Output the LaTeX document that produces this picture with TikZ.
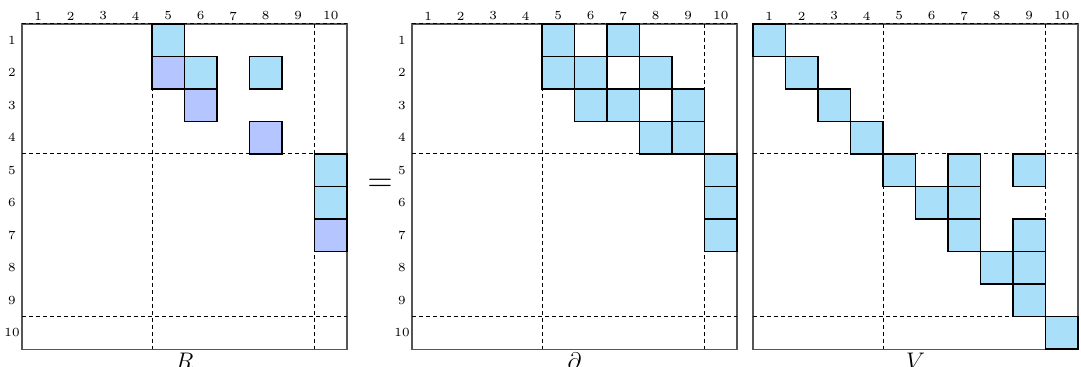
\documentclass[tikz,border=0pt]{standalone}
\usepackage{tikz}
\definecolor{cellblue}{RGB}{170,223,249}
\definecolor{cellviolet}{RGB}{180,197,255}
\definecolor{framegray}{RGB}{85,85,85}
\tikzset{
  cellbox/.style={draw=black, line width=0.55pt},
  framebox/.style={draw=framegray, line width=0.6pt},
  sepline/.style={draw=black, dash pattern=on 2pt off 1.5pt, line width=0.5pt},
  idx/.style={font=\fontsize{6.2}{7}\selectfont, inner sep=0pt},
  mlabel/.style={font=\large, inner sep=1pt, anchor=north},
}
\begin{document}
\begin{tikzpicture}[x=0.5pt,y=-0.5pt]
\useasboundingbox (0,0) rectangle (1081,367);
% frames and separators
\foreach \name/\ox in {R/22, D/412, V/753} {
  \draw[framebox] (\ox,24) rectangle (\ox+325,349.5);
  \draw[sepline] (\ox,24) -- (\ox+325,24);
  \draw[sepline] (\ox+130,24) -- (\ox+130,349.5);
  \draw[sepline] (\ox+292.5,24) -- (\ox+292.5,349.5);
  \draw[sepline] (\ox,154) -- (\ox+325,154);
  \draw[sepline] (\ox,316.5) -- (\ox+325,316.5);
  \foreach \i in {1,...,10} {
    \node[idx] (\name-c\i) at (\ox+\i*32.5-16.25,16) {\i};
  }
}
% row indices
\foreach \name/\ox in {R/22, D/412} {
  \foreach \i in {1,...,10} {
    \node[idx] (\name-r\i) at (\ox-10,24+\i*32.5-16.25) {\i};
  }
}
% cells: origin x / row / col / colour
\foreach \ox/\r/\c/\col in {
  22/1/5/cellblue, 22/2/5/cellviolet, 22/2/6/cellblue, 22/2/8/cellblue,
  22/3/6/cellviolet, 22/4/8/cellviolet, 22/5/10/cellblue, 22/6/10/cellblue,
  22/7/10/cellviolet,
  412/1/5/cellblue, 412/1/7/cellblue, 412/2/5/cellblue, 412/2/6/cellblue,
  412/2/8/cellblue, 412/3/6/cellblue, 412/3/7/cellblue, 412/3/9/cellblue,
  412/4/8/cellblue, 412/4/9/cellblue, 412/5/10/cellblue, 412/6/10/cellblue,
  412/7/10/cellblue,
  753/1/1/cellblue, 753/2/2/cellblue, 753/3/3/cellblue, 753/4/4/cellblue,
  753/5/5/cellblue, 753/5/7/cellblue, 753/5/9/cellblue, 753/6/6/cellblue,
  753/6/7/cellblue, 753/7/7/cellblue, 753/7/9/cellblue, 753/8/8/cellblue,
  753/8/9/cellblue, 753/9/9/cellblue, 753/10/10/cellblue} {
  \draw[cellbox, fill=\col] (\ox+\c*32.5-32.5, 24+\r*32.5-32.5) rectangle ++(32.5,32.5);
}
% labels
\node[mlabel] (R-label) at (184.5,350.5) {$R$};
\node[mlabel] (D-label) at (574.5,350.5) {$\partial$};
\node[mlabel] (V-label) at (915.5,350.5) {$V$};
\node[font=\LARGE, inner sep=0pt] (eq) at (380,185) {$=$};
\end{tikzpicture}
\end{document}
